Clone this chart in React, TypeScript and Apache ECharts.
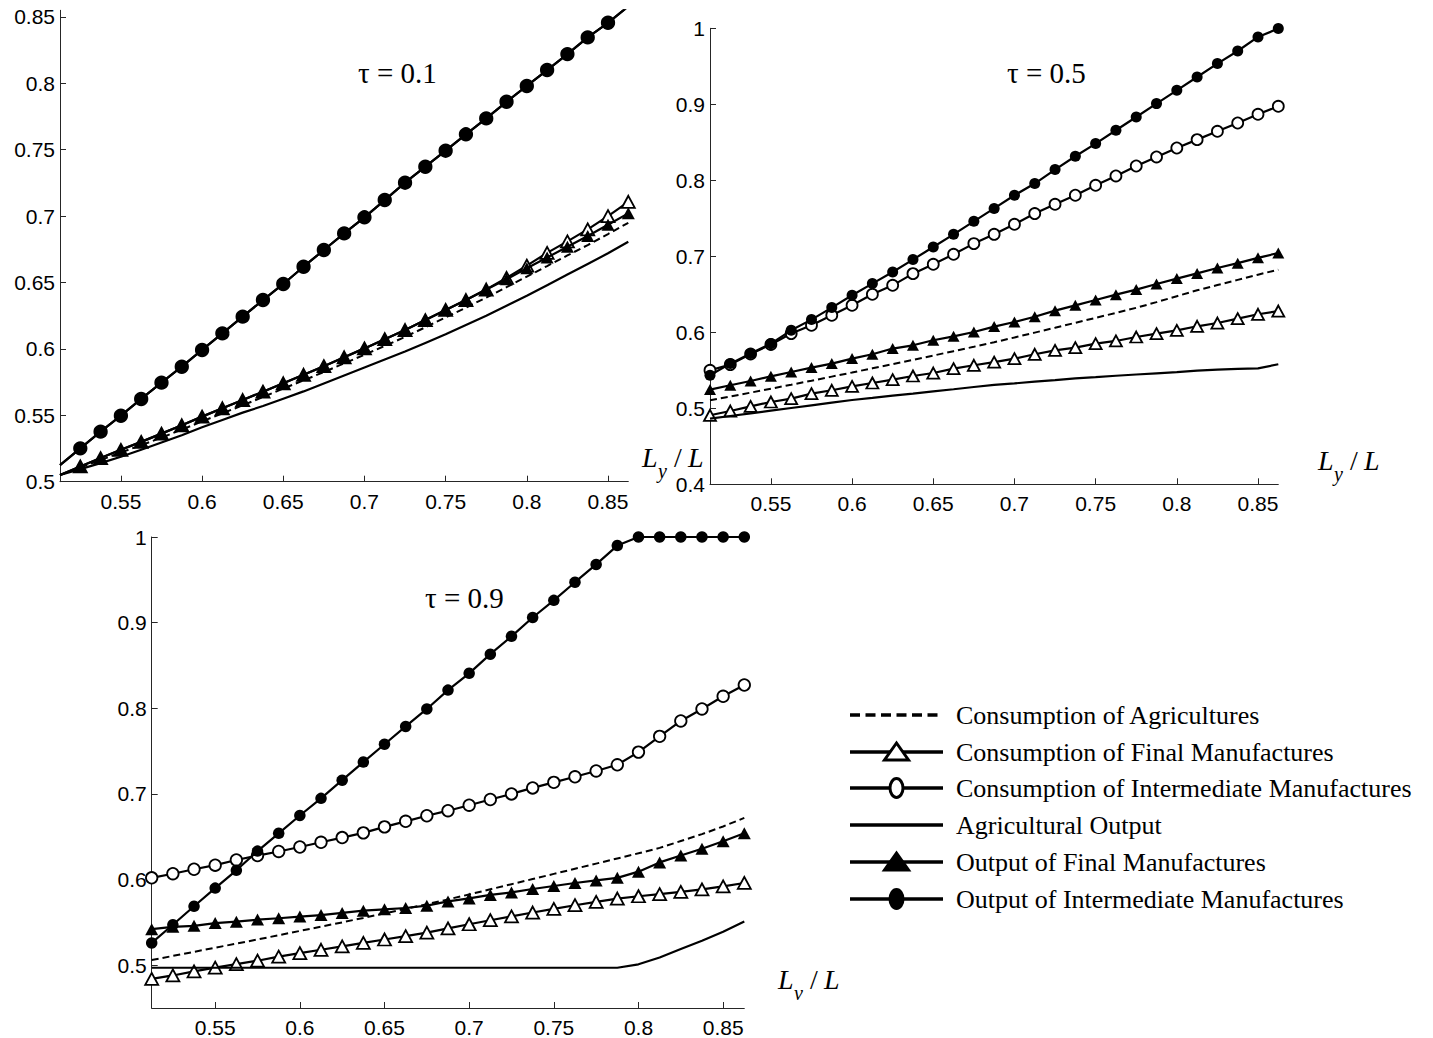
import React, { useEffect, useRef } from "react";
import * as echarts from "echarts";

// Labour share L_y / L, sampled every 0.0125
const LY_SHARE = [
  0.5125, 0.525, 0.5375, 0.55, 0.5625, 0.575, 0.5875, 0.6, 0.6125, 0.625,
  0.6375, 0.65, 0.6625, 0.675, 0.6875, 0.7, 0.7125, 0.725, 0.7375, 0.75,
  0.7625, 0.775, 0.7875, 0.8, 0.8125, 0.825, 0.8375, 0.85, 0.8625,
];

const X_TICKS = [0.55, 0.6, 0.65, 0.7, 0.75, 0.8, 0.85];
const Y_TICKS_TAU01 = [0.5, 0.55, 0.6, 0.65, 0.7, 0.75, 0.8, 0.85];
const Y_TICKS_TAU05 = [0.4, 0.5, 0.6, 0.7, 0.8, 0.9, 1];
const Y_TICKS_TAU09 = [0.5, 0.6, 0.7, 0.8, 0.9, 1];

const TAU_LABELS = ["τ = 0.1", "τ = 0.5", "τ = 0.9"];
const AXIS_SUBSCRIPTS = ["y", "y", "v"];

const SERIES_NAMES = [
  "Consumption of Agricultures",
  "Consumption of Final Manufactures",
  "Consumption of Intermediate Manufactures",
  "Agricultural Output",
  "Output of Final Manufactures",
  "Output of Intermediate Manufactures",
];

// ---- τ = 0.1 ----
const consAgriTau01 = [
  0.505, 0.5107, 0.5163, 0.522, 0.5275, 0.5332, 0.5392, 0.5454, 0.5515, 0.5575,
  0.5638, 0.5701, 0.5763, 0.5826, 0.5891, 0.5956, 0.6023, 0.609, 0.6163, 0.6237,
  0.631, 0.6387, 0.6465, 0.6545, 0.6624, 0.6704, 0.6782, 0.6865, 0.695,
];
const consFinalTau01 = [
  0.505, 0.5115, 0.5178, 0.524, 0.53, 0.5362, 0.5425, 0.549, 0.5553, 0.5615,
  0.5678, 0.5741, 0.5805, 0.587, 0.5937, 0.6004, 0.6073, 0.6142, 0.6217, 0.6293,
  0.6368, 0.6447, 0.6535, 0.6627, 0.6723, 0.681, 0.69, 0.7, 0.7108,
];
const consInterTau01 = [
  0.5125, 0.5251, 0.5377, 0.5497, 0.5623, 0.5746, 0.5866, 0.5992, 0.6117, 0.6243,
  0.6368, 0.6489, 0.6619, 0.6745, 0.687, 0.6991, 0.7121, 0.7252, 0.7372, 0.7493,
  0.7616, 0.7736, 0.7861, 0.798, 0.81, 0.822, 0.8346, 0.8456, 0.858,
];
const agriOutTau01 = [
  0.505, 0.5095, 0.514, 0.5188, 0.524, 0.5295, 0.535, 0.541, 0.5465, 0.552,
  0.557, 0.5625, 0.568, 0.574, 0.58, 0.586, 0.592, 0.598, 0.6045, 0.611,
  0.618, 0.625, 0.6325, 0.64, 0.648, 0.656, 0.664, 0.672, 0.6807,
];
const outFinalTau01 = [
  0.505, 0.5115, 0.5178, 0.524, 0.53, 0.5362, 0.5425, 0.549, 0.5553, 0.5615,
  0.5678, 0.5741, 0.5805, 0.587, 0.5937, 0.6004, 0.6073, 0.6142, 0.6217, 0.6293,
  0.6368, 0.6447, 0.6525, 0.6607, 0.6688, 0.677, 0.685, 0.6935, 0.7021,
];
const outInterTau01 = [
  0.5125, 0.5251, 0.5377, 0.5497, 0.5623, 0.5746, 0.5866, 0.5992, 0.6117, 0.6243,
  0.6368, 0.6489, 0.6619, 0.6745, 0.687, 0.6991, 0.7121, 0.7252, 0.7372, 0.7493,
  0.7616, 0.7736, 0.7861, 0.798, 0.81, 0.822, 0.8346, 0.8456, 0.858,
];

// ---- τ = 0.5 ----
const consAgriTau05 = [
  0.5105, 0.5155, 0.5206, 0.5258, 0.531, 0.5363, 0.5417, 0.5471, 0.5526, 0.5581,
  0.5637, 0.5694, 0.5752, 0.581, 0.5869, 0.5932, 0.5996, 0.606, 0.6125, 0.619,
  0.6255, 0.6322, 0.6397, 0.6475, 0.6553, 0.6622, 0.669, 0.6758, 0.6825,
];
const consFinalTau05 = [
  0.4908, 0.4964, 0.5026, 0.5083, 0.5128, 0.5193, 0.5237, 0.5289, 0.5333, 0.5378,
  0.5425, 0.5464, 0.5522, 0.5566, 0.5608, 0.5654, 0.5711, 0.5763, 0.5799, 0.5851,
  0.5886, 0.5938, 0.5983, 0.6026, 0.6079, 0.6122, 0.618, 0.6237, 0.628,
];
const consInterTau05 = [
  0.55, 0.5575, 0.5715, 0.584, 0.5983, 0.6092, 0.6224, 0.6355, 0.65, 0.6618,
  0.6772, 0.6895, 0.7026, 0.7167, 0.7289, 0.7421, 0.7562, 0.7684, 0.7803, 0.7934,
  0.8057, 0.8188, 0.8307, 0.8425, 0.8535, 0.8645, 0.8754, 0.8868, 0.8974,
];
const agriOutTau05 = [
  0.4864, 0.4899, 0.4934, 0.4969, 0.5004, 0.5039, 0.5074, 0.5109, 0.5137, 0.5166,
  0.5194, 0.5223, 0.5251, 0.528, 0.5308, 0.5328, 0.535, 0.537, 0.5395, 0.541,
  0.5428, 0.5445, 0.546, 0.5475, 0.5495, 0.551, 0.552, 0.5525, 0.5579,
];
const outFinalTau05 = [
  0.5246, 0.5303, 0.5359, 0.5421, 0.5478, 0.5536, 0.5588, 0.5654, 0.5711, 0.5786,
  0.5829, 0.5895, 0.5947, 0.6004, 0.6075, 0.6136, 0.6205, 0.6285, 0.6355, 0.6425,
  0.6495, 0.6562, 0.6635, 0.6707, 0.6775, 0.6846, 0.691, 0.698, 0.7043,
];
const outInterTau05 = [
  0.5434, 0.5588, 0.572, 0.5851, 0.6026, 0.6167, 0.6325, 0.6487, 0.6641, 0.6793,
  0.6957, 0.7122, 0.7289, 0.746, 0.763, 0.7803, 0.7957, 0.8141, 0.8316, 0.8483,
  0.8658, 0.8833, 0.9009, 0.9184, 0.9359, 0.9536, 0.9701, 0.9886, 0.9996,
];

// ---- τ = 0.9 ----
const consAgriTau09 = [
  0.506, 0.5108, 0.5156, 0.5204, 0.5252, 0.53, 0.535, 0.54, 0.545, 0.55,
  0.5552, 0.5605, 0.5658, 0.5712, 0.5768, 0.5826, 0.5886, 0.5946, 0.6006, 0.6066,
  0.6126, 0.6186, 0.6246, 0.6306, 0.637, 0.645, 0.653, 0.662, 0.672,
];
const consFinalTau09 = [
  0.484, 0.488, 0.4928, 0.4972, 0.5012, 0.5052, 0.51, 0.514, 0.518, 0.522,
  0.526, 0.53, 0.534, 0.538, 0.543, 0.5478, 0.5525, 0.557, 0.5615, 0.5658,
  0.57, 0.574, 0.5778, 0.5805, 0.583, 0.5855, 0.5885, 0.592, 0.596,
];
const consInterTau09 = [
  0.602, 0.6068, 0.612, 0.6168, 0.6228, 0.628, 0.6328, 0.638, 0.6435, 0.649,
  0.6545, 0.6615, 0.668, 0.6745, 0.6804, 0.6868, 0.6935, 0.7, 0.707, 0.7135,
  0.72, 0.7268, 0.734, 0.7488, 0.7672, 0.7852, 0.7992, 0.814, 0.8272,
];
const agriOutTau09 = [
  0.497, 0.497, 0.497, 0.497, 0.497, 0.497, 0.497, 0.497, 0.497, 0.497,
  0.497, 0.497, 0.497, 0.497, 0.497, 0.497, 0.497, 0.497, 0.497, 0.497,
  0.497, 0.497, 0.497, 0.501, 0.509, 0.519, 0.5285, 0.539, 0.551,
];
const outFinalTau09 = [
  0.542, 0.5448, 0.546, 0.5492, 0.5508, 0.5532, 0.5548, 0.5568, 0.5585, 0.561,
  0.5636, 0.5652, 0.5668, 0.5695, 0.5745, 0.578, 0.582, 0.585, 0.589, 0.5925,
  0.596, 0.599, 0.602, 0.6092, 0.62, 0.628, 0.636, 0.6448, 0.654,
];
const outInterTau09 = [
  0.526, 0.5472, 0.5688, 0.59, 0.6108, 0.6332, 0.654, 0.6748, 0.6948, 0.716,
  0.7372, 0.758, 0.7788, 0.7992, 0.8212, 0.8408, 0.8632, 0.884, 0.906, 0.926,
  0.9472, 0.968, 0.99, 1, 1, 1, 1, 1, 1,
];

const SANS = '"Liberation Sans", Arial, Helvetica, sans-serif';
const SERIF = '"Liberation Serif", "Times New Roman", Times, serif';
const AXIS_COLOR = "#262626";

type Panel = {
  grid: { left: number; top: number; width: number; height: number };
  yMin: number;
  yMax: number;
  yTicks: number[];
  series: number[][];
  markerOnFirst: boolean;
  circleSize: number;
  triSize: [number, number];
  tauPos: [number, number];
  axisNamePos: [number, number];
};

const PANELS: Panel[] = [
  {
    grid: { left: 60, top: 10.3, width: 568.3, height: 471.4 },
    yMin: 0.5,
    yMax: 0.855,
    yTicks: Y_TICKS_TAU01,
    series: [consAgriTau01, consFinalTau01, consInterTau01, agriOutTau01, outFinalTau01, outInterTau01],
    markerOnFirst: false,
    circleSize: 12.5,
    triSize: [13, 12],
    tauPos: [358, 73],
    axisNamePos: [642, 457],
  },
  {
    grid: { left: 710, top: 28.3, width: 568.3, height: 456 },
    yMin: 0.4,
    yMax: 1,
    yTicks: Y_TICKS_TAU05,
    series: [consAgriTau05, consFinalTau05, consInterTau05, agriOutTau05, outFinalTau05, outInterTau05],
    markerOnFirst: true,
    circleSize: 11,
    triSize: [12, 11],
    tauPos: [1007, 73],
    axisNamePos: [1318, 460],
  },
  {
    grid: { left: 151.7, top: 537, width: 592.6, height: 472 },
    yMin: 0.45,
    yMax: 1,
    yTicks: Y_TICKS_TAU09,
    series: [consAgriTau09, consFinalTau09, consInterTau09, agriOutTau09, outFinalTau09, outInterTau09],
    markerOnFirst: true,
    circleSize: 11.5,
    triSize: [13, 12],
    tauPos: [425, 598],
    axisNamePos: [778, 979],
  },
];

// Marker look for each of the six quantities
const KIND_STYLE = [
  { symbol: "none", fill: "", dashed: true },
  { symbol: "triangle", fill: "#fff", dashed: false },
  { symbol: "circle", fill: "#fff", dashed: false },
  { symbol: "none", fill: "", dashed: false },
  { symbol: "triangle", fill: "#000", dashed: false },
  { symbol: "circle", fill: "#000", dashed: false },
];

const fmt = (v: number) => String(Number(v.toFixed(3)));

function buildOption() {
  const grids = PANELS.map((p) => ({ ...p.grid, containLabel: false }));

  const axisLine = { show: true, onZero: false, lineStyle: { color: AXIS_COLOR, width: 1 } };
  const labelStyle = { fontFamily: SANS, fontSize: 21, color: "#000" };

  const xAxes = PANELS.map((_, i) => ({
    type: "value",
    gridIndex: i,
    min: 0.5125,
    max: 0.8625,
    axisLine,
    axisTick: { show: true, inside: true, length: 6, customValues: X_TICKS, lineStyle: { color: AXIS_COLOR } },
    axisLabel: { ...labelStyle, margin: 9, customValues: X_TICKS, formatter: fmt },
    splitLine: { show: false },
  }));

  const yAxes = PANELS.map((p, i) => ({
    type: "value",
    gridIndex: i,
    min: p.yMin,
    max: p.yMax,
    axisLine,
    axisTick: { show: true, inside: true, length: 6, customValues: p.yTicks, lineStyle: { color: AXIS_COLOR } },
    axisLabel: { ...labelStyle, margin: 5, customValues: p.yTicks, formatter: fmt },
    splitLine: { show: false },
  }));

  const series: any[] = [];
  PANELS.forEach((p, pi) => {
    p.series.forEach((ys, k) => {
      const st = KIND_STYLE[k];
      const hasMarker = st.symbol !== "none";
      const data = LY_SHARE.map((x, i) =>
        hasMarker && i === 0 && !p.markerOnFirst ? { value: [x, ys[i]], symbol: "none" } : [x, ys[i]]
      );
      series.push({
        type: "line",
        name: SERIES_NAMES[k],
        xAxisIndex: pi,
        yAxisIndex: pi,
        data,
        clip: true,
        symbol: st.symbol,
        showSymbol: hasMarker,
        showAllSymbol: true,
        symbolSize: st.symbol === "triangle" ? p.triSize : p.circleSize,
        lineStyle: { color: "#000", width: st.dashed ? 2 : 2.2, type: st.dashed ? [7, 4] : "solid" },
        itemStyle: hasMarker ? { color: st.fill, borderColor: "#000", borderWidth: st.fill === "#fff" ? 1.8 : 0 } : { color: "#000" },
        emphasis: { disabled: true },
        silent: true,
        z: 2 + k,
      });
    });
  });

  const graphics: any[] = [];

  // panel annotations
  PANELS.forEach((p, i) => {
    graphics.push({
      type: "text",
      x: p.tauPos[0],
      y: p.tauPos[1],
      style: { text: TAU_LABELS[i], fontFamily: SERIF, fontSize: 29, fill: "#000", align: "left", verticalAlign: "middle" },
    });
    const [ax, ay] = p.axisNamePos;
    graphics.push(
      { type: "text", x: ax, y: ay, style: { text: "L", fontFamily: SERIF, fontStyle: "italic", fontSize: 28, fill: "#000", align: "left", verticalAlign: "middle" } },
      { type: "text", x: ax + 16, y: ay + 14, style: { text: AXIS_SUBSCRIPTS[i], fontFamily: SERIF, fontStyle: "italic", fontSize: 20, fill: "#000", align: "left", verticalAlign: "middle" } },
      { type: "text", x: ax + 32, y: ay, style: { text: "/", fontFamily: SERIF, fontSize: 28, fill: "#000", align: "left", verticalAlign: "middle" } },
      { type: "text", x: ax + 46, y: ay, style: { text: "L", fontFamily: SERIF, fontStyle: "italic", fontSize: 28, fill: "#000", align: "left", verticalAlign: "middle" } }
    );
  });

  // legend block
  const rowY = [715, 752, 788, 825, 862, 899];
  const lx0 = 850;
  const lx1 = 943;
  const mx = 896.5;
  SERIES_NAMES.forEach((name, k) => {
    const y = rowY[k];
    const st = KIND_STYLE[k];
    graphics.push({
      type: "line",
      shape: { x1: lx0, y1: y, x2: lx1, y2: y },
      style: { stroke: "#000", lineWidth: 3.5, lineDash: st.dashed ? [10, 5.5] : null },
    });
    if (st.symbol === "triangle") {
      graphics.push({
        type: "polygon",
        shape: { points: [[mx - 12, y + 8], [mx + 12, y + 8], [mx, y - 9]] },
        style: { fill: st.fill, stroke: "#000", lineWidth: 3 },
      });
    } else if (st.symbol === "circle") {
      graphics.push({
        type: "ellipse",
        shape: { cx: mx, cy: y, rx: 6.5, ry: 9.5 },
        style: { fill: st.fill, stroke: "#000", lineWidth: 3 },
      });
    }
    graphics.push({
      type: "text",
      x: 956,
      y,
      style: { text: name, fontFamily: SERIF, fontSize: 26, fill: "#000", align: "left", verticalAlign: "middle" },
    });
  });

  return {
    animation: false,
    backgroundColor: "#fff",
    grid: grids,
    xAxis: xAxes,
    yAxis: yAxes,
    series,
    graphic: { elements: graphics },
  };
}

export default function App() {
  const ref = useRef<HTMLDivElement>(null);
  useEffect(() => {
    if (!ref.current) return;
    const chart = echarts.init(ref.current, undefined, { renderer: "svg" });
    chart.setOption(buildOption() as any);
    return () => chart.dispose();
  }, []);
  return (
    <div
      ref={ref}
      style={{ position: "absolute", left: 0, top: 0, width: 1433, height: 1038, background: "#fff" }}
    />
  );
}
